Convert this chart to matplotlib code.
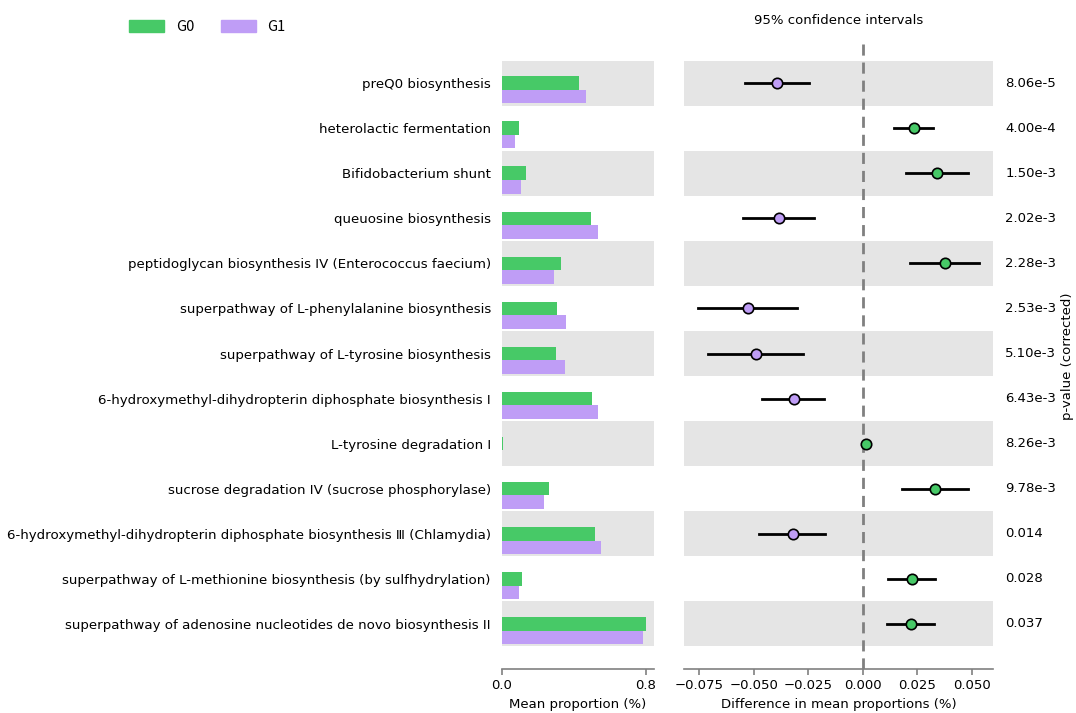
import numpy as np
import matplotlib
matplotlib.use("Agg")
import matplotlib.pyplot as plt
from matplotlib.patches import Patch

plt.rcParams['font.family'] = ['DejaVu Sans', 'Noto Sans CJK SC']

pathways = [
    "preQ0 biosynthesis",
    "heterolactic fermentation",
    "Bifidobacterium shunt",
    "queuosine biosynthesis",
    "peptidoglycan biosynthesis IV (Enterococcus faecium)",
    "superpathway of L-phenylalanine biosynthesis",
    "superpathway of L-tyrosine biosynthesis",
    "6-hydroxymethyl-dihydropterin diphosphate biosynthesis I",
    "L-tyrosine degradation I",
    "sucrose degradation IV (sucrose phosphorylase)",
    "6-hydroxymethyl-dihydropterin diphosphate biosynthesis Ⅲ (Chlamydia)",
    "superpathway of L-methionine biosynthesis (by sulfhydrylation)",
    "superpathway of adenosine nucleotides de novo biosynthesis II",
]
g0_mean = [0.43, 0.096, 0.133, 0.496, 0.326, 0.306, 0.300, 0.500, 0.005, 0.263, 0.517, 0.113, 0.800]
g1_mean = [0.465, 0.074, 0.104, 0.532, 0.290, 0.357, 0.348, 0.532, 0.001, 0.233, 0.548, 0.093, 0.782]
diff = [-0.0392, 0.0235, 0.0341, -0.0385, 0.0376, -0.0526, -0.0488, -0.0317, 0.0014, 0.0333, -0.0321, 0.0228, 0.0222]
ci_low = [-0.0539, 0.0144, 0.0200, -0.0550, 0.0217, -0.0754, -0.0710, -0.0463, 0.0010, 0.0182, -0.0477, 0.0116, 0.0111]
ci_high = [-0.0246, 0.0324, 0.0482, -0.0222, 0.0534, -0.0300, -0.0272, -0.0176, 0.0018, 0.0484, -0.0171, 0.0332, 0.0329]
pvals = ["8.06e-5", "4.00e-4", "1.50e-3", "2.02e-3", "2.28e-3", "2.53e-3", "5.10e-3",
         "6.43e-3", "8.26e-3", "9.78e-3", "0.014", "0.028", "0.037"]

c_g0 = '#47c967'
c_g1 = '#bf9df6'
band = '#e5e5e5'
spine_c = '#808080'
fs = 9.5

n = len(pathways)
y = np.arange(n)

fig = plt.figure(figsize=(10.76, 7.13), dpi=100)
ax1 = fig.add_axes([0.4665, 0.0617, 0.1413, 0.885])
ax2 = fig.add_axes([0.6357, 0.0617, 0.2875, 0.885])

for ax in (ax1, ax2):
    for i in range(0, n, 2):
        ax.axhspan(i - 0.5, i + 0.5, color=band, lw=0, zorder=0)
    ax.set_ylim(n, -1)
    for s in ('top', 'right', 'left'):
        ax.spines[s].set_visible(False)
    ax.spines['bottom'].set_color(spine_c)
    ax.spines['bottom'].set_linewidth(1.2)
    ax.tick_params(axis='x', colors=spine_c, labelcolor='black', labelsize=fs, length=4, width=1.2)

# bar panel
ax1.barh(y, g0_mean, height=0.3, color=c_g0, align='center', zorder=2)
ax1.barh(y + 0.3, g1_mean, height=0.3, color=c_g1, align='center', zorder=2)
ax1.set_xlim(0, 0.845)
ax1.set_xticks([0.0, 0.8])
ax1.set_xticklabels(['0.0', '0.8'])
ax1.set_yticks(y)
ax1.set_yticklabels(pathways, fontsize=9.65)
ax1.tick_params(axis='y', length=0, pad=8)
ax1.set_xlabel('Mean proportion (%)', fontsize=fs, labelpad=4)

# CI panel
ax2.axvline(0, color='#808080', lw=2, ls=(0, (4, 2.5)), zorder=1)
cols = [c_g0 if d > 0 else c_g1 for d in diff]
for i in range(n):
    ax2.plot([ci_low[i], ci_high[i]], [y[i], y[i]], color='black', lw=2, zorder=2)
    ax2.plot(diff[i], y[i], 'o', ms=7.5, mfc=cols[i], mec='black', mew=1.2, zorder=3)
ax2.set_xlim(-0.082, 0.060)
ax2.set_xticks([-0.075, -0.05, -0.025, 0.0, 0.025, 0.05])
ax2.set_xticklabels(['\u22120.075', '\u22120.050', '\u22120.025', '0.000', '0.025', '0.050'])
ax2.set_yticks([])
ax2.set_xlabel('Difference in mean proportions (%)', fontsize=fs, labelpad=4)
ax2.set_title('95% confidence intervals', fontsize=fs, pad=10)

for i in range(n):
    ax2.text(1.038, y[i], pvals[i], transform=ax2.get_yaxis_transform(),
             ha='left', va='center', fontsize=fs)
fig.text(0.992, 0.5, 'p-value (corrected)', rotation=90, ha='center', va='center', fontsize=fs)

handles = [Patch(color=c_g0, label='G0'), Patch(color=c_g1, label='G1')]
fig.legend(handles=handles, loc='center left', bbox_to_anchor=(0.108, 0.962), ncol=2,
           frameon=False, handlelength=2.4, handleheight=0.8,
           columnspacing=1.8, handletextpad=0.8,
           prop={'family': ['Noto Sans CJK SC', 'DejaVu Sans'], 'size': 10.5})

fig.savefig('out.png', dpi=100)
